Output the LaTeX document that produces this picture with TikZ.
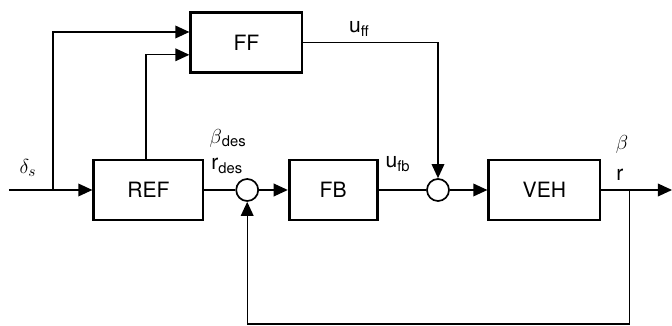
\documentclass[tikz,border=0pt]{standalone}
\usepackage{fontspec}
\setmainfont{TeX Gyre Heros}
\usetikzlibrary{arrows.meta}

\begin{document}
\begin{tikzpicture}[>={Triangle[length=10pt,width=9pt]}, line width=1pt,
  block/.style={draw, line width=2pt, minimum height=1.5cm, font=\fontsize{15}{18}\selectfont},
  sumpt/.style={draw, circle, line width=1.2pt, minimum size=0.55cm, inner sep=0pt},
  lbl/.style={inner sep=0pt, font=\fontsize{15}{18}\selectfont}]
  \useasboundingbox (0,0) rectangle (16.8,8.15);
  % blocks
  \node[block, minimum width=2.78cm] (ff) at (6.16,7.09) {FF};
  \node[block, minimum width=2.73cm] (ref) at (3.71,3.4) {REF};
  \node[block, minimum width=2.2cm] (fb) at (8.33,3.4) {FB};
  \node[block, minimum width=2.78cm] (veh) at (13.61,3.4) {VEH};
  % summing points
  \node[sumpt] (s1) at (6.18,3.4) {};
  \node[sumpt] (s2) at (10.95,3.4) {};
  % free ends
  \coordinate (in) at (0.22,3.4);
  \coordinate (split) at (1.33,3.4);
  \coordinate (tap) at (15.73,3.4);
  \coordinate (low) at (15.73,0.05);
  \coordinate (out) at (16.8,3.4);
  % steering input and feedforward
  \draw (in) -- (split);
  \draw[->] (split) -- (ref.west);
  \draw[->] (split) |- ([yshift=0.26cm]ff.west);
  \draw[->] ([xshift=-0.06cm]ref.north) |- ([yshift=-0.31cm]ff.west);
  \draw[->] (ff.east) -| (s2.north);
  % forward path
  \draw (ref.east) -- (s1.west);
  \draw[->] (s1.east) -- (fb.west);
  \draw (fb.east) -- (s2.west);
  \draw[->] (s2.east) -- (veh.west);
  \draw[->] (veh.east) -- (out);
  % feedback
  \draw[->] (tap) -- (low) -| (s1.south);
  % labels
  \node[lbl] (ldelta) at (0.7,3.95) {$\delta_s$};
  \node[lbl] (lbdes) at (5.7,4.7) {$\beta$\textsubscript{des}};
  \node[lbl] (lrdes) at (5.68,4.0) {r\textsubscript{des}};
  \node[lbl] (luff) at (8.98,7.42) {u\textsubscript{ff}};
  \node[lbl] (lufb) at (9.95,4.05) {u\textsubscript{fb}};
  \node[lbl] (lbeta) at (15.55,4.53) {$\beta$};
  \node[lbl] (lr) at (15.5,3.78) {r};
\end{tikzpicture}
\end{document}
